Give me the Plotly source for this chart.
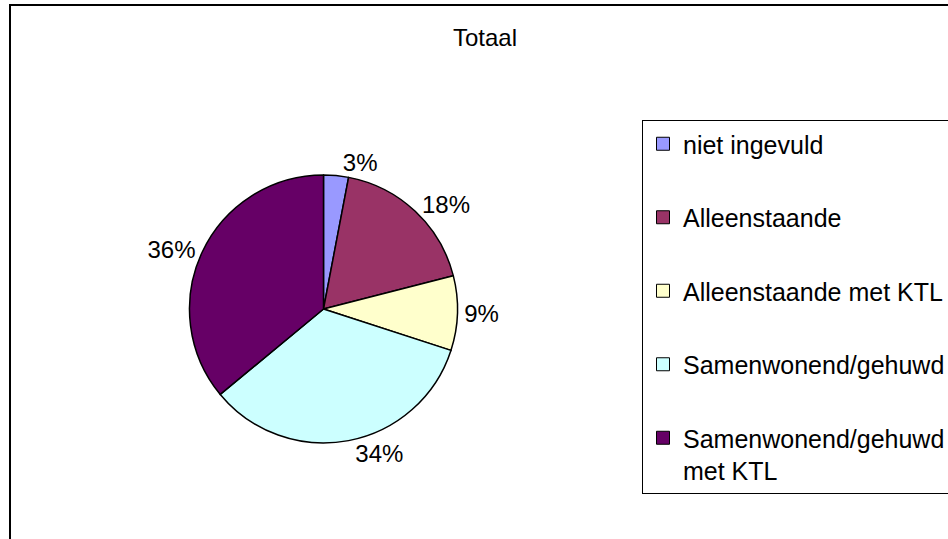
import plotly.graph_objects as go

# data
labels = ["niet ingevuld", "Alleenstaande", "Alleenstaande met KTL",
          "Samenwonend/gehuwd", "Samenwonend/gehuwd<br>met KTL"]
values = [3, 18, 9, 34, 36]
colors = ["#9999FF", "#993366", "#FFFFCC", "#CCFFFF", "#660066"]

W, H = 948, 539
FONT = "Arial, Liberation Sans, sans-serif"


def px(x):
    return x / W


def py(y):
    return 1 - y / H


fig = go.Figure()

fig.add_trace(go.Pie(
    labels=labels, values=values,
    sort=False, direction="clockwise", rotation=0,
    marker=dict(colors=colors, line=dict(color="black", width=1.5)),
    textinfo="percent", textposition="outside",
    outsidetextfont=dict(family=FONT, size=24, color="black"),
    showlegend=False,
    domain=dict(x=[px(189.5), px(457.5)], y=[py(443), py(175)]),
))

# legend entries (one group each so the gap can match the excel spacing)
for lab, col in zip(labels, colors):
    fig.add_trace(go.Scatter(
        x=[None], y=[None], mode="markers", name=lab, legendgroup=lab,
        marker=dict(symbol="square", size=13, color=col,
                    line=dict(color="black", width=1)),
    ))

# chart border
fig.add_shape(type="rect", xref="paper", yref="paper",
              x0=px(10), x1=1.02, y0=-0.02, y1=py(5),
              line=dict(color="black", width=2), layer="above")

fig.update_layout(
    width=W, height=H,
    margin=dict(l=0, r=0, t=0, b=0, autoexpand=False),
    paper_bgcolor="white", plot_bgcolor="white",
    font=dict(family=FONT, size=24, color="black"),
    title=dict(text="Totaal", x=px(485), xanchor="center",
               y=py(38), yanchor="middle",
               font=dict(family=FONT, size=24, color="black")),
    xaxis=dict(visible=False), yaxis=dict(visible=False),
    legend=dict(x=px(642), xanchor="left", y=py(120), yanchor="top",
                bordercolor="black", borderwidth=1, bgcolor="white",
                font=dict(family=FONT, size=25, color="black"),
                tracegroupgap=38, valign="top", traceorder="grouped"),
)

# drop the default 8px page margin so the figure sits at the window corner
fig.write_html("out.html", config={"displayModeBar": False},
               post_script="document.body.style.margin = '0';")
